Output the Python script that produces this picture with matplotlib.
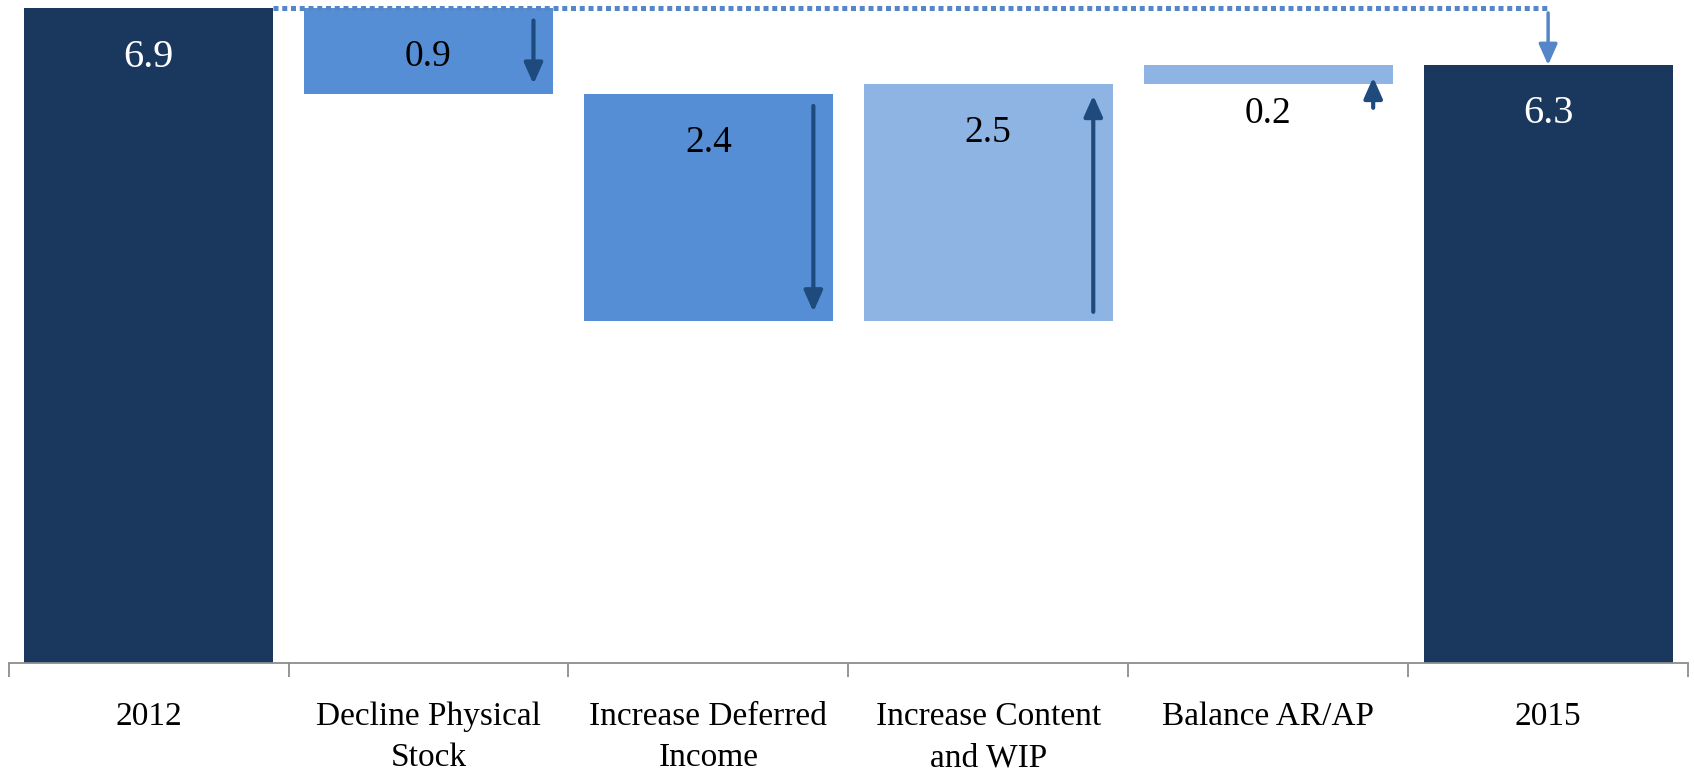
import matplotlib.pyplot as plt
from matplotlib.ticker import FixedLocator

# bridge from 2012 to 2015
categories = ["2012", "Decline Physical\nStock", "Increase Deferred\nIncome",
              "Increase Content\nand WIP", "Balance AR/AP", "2015"]
start_value = 6.9
changes = [-0.9, -2.4, 2.5, 0.2]
end_value = 6.3
change_labels = ["0.9", "2.4", "2.5", "0.2"]

navy = "#1A375E"
mid_blue = "#558ED5"
light_blue = "#8EB4E3"
arrow_dark = "#1F4A7E"
link_blue = "#5586C8"

plt.rcParams['font.family'] = ['Liberation Serif', 'DejaVu Serif']

fig = plt.figure(figsize=(16.94, 7.71), dpi=100)
ax = fig.add_axes([0.0051, 0.1401, 0.9914, 0.8599])

width = 0.89
label_drop = 0.515

# totals
for i, v in [(0, start_value), (5, end_value)]:
    ax.bar(i, v, width, color=navy, zorder=2)
    ax.text(i, v - label_drop, "%.1f" % v, ha='center', va='center',
            color='white', fontsize=29, zorder=4)

# floating steps
level = start_value
for k, d in enumerate(changes):
    i = k + 1
    lo, hi = min(level, level + d), max(level, level + d)
    ax.bar(i, hi - lo, width, bottom=lo,
           color=mid_blue if d < 0 else light_blue, zorder=2)
    ax.text(i, hi - label_drop, change_labels[k], ha='center', va='center',
            color='black', fontsize=27, zorder=4)
    ax_x = i + 0.375
    if abs(d) < 0.5:
        # short bar: arrow comes up from below
        a0, a1 = lo - 0.25, lo + 0.07
    elif d < 0:
        a0, a1 = hi - 0.13, lo + 0.1
    else:
        a0, a1 = lo + 0.1, hi - 0.12
    if d < 0:
        a0, a1 = max(a0, a1), min(a0, a1)
    ax.annotate('', xy=(ax_x, a1), xytext=(ax_x, a0),
                arrowprops=dict(arrowstyle='-|>,head_length=0.45,head_width=0.2',
                                color=arrow_dark, lw=3, mutation_scale=28,
                                shrinkA=0, shrinkB=0), zorder=3)
    level += d

# dotted link from start total to end total
ax.plot([width / 2, 5], [start_value, start_value], color=link_blue, lw=3.6,
        linestyle=(0, (1.0, 0.75)), zorder=3, solid_capstyle='butt',
        dash_capstyle='butt')
ax.annotate('', xy=(5, end_value), xytext=(5, start_value - 0.05),
            arrowprops=dict(arrowstyle='-|>,head_length=0.45,head_width=0.2',
                            color=link_blue, lw=2.5, mutation_scale=28,
                            shrinkA=0, shrinkB=0), zorder=3)

ax.set_xlim(-0.5, 5.5)
ax.set_ylim(0, 6.986)
ax.set_xticks(range(len(categories)))
ax.set_xticklabels(categories, fontsize=24, linespacing=1.45)
ax.xaxis.set_minor_locator(FixedLocator([x - 0.5 for x in range(7)]))
ax.tick_params(axis='x', which='major', length=0, pad=28)
ax.tick_params(axis='x', which='minor', length=10, width=1.3, color='#8C8C8C',
               direction='out')
ax.set_yticks([])
for s in ['left', 'right', 'top']:
    ax.spines[s].set_visible(False)
ax.spines['bottom'].set_color('#8C8C8C')
ax.spines['bottom'].set_linewidth(1.3)

fig.savefig("out.png", dpi=100)
